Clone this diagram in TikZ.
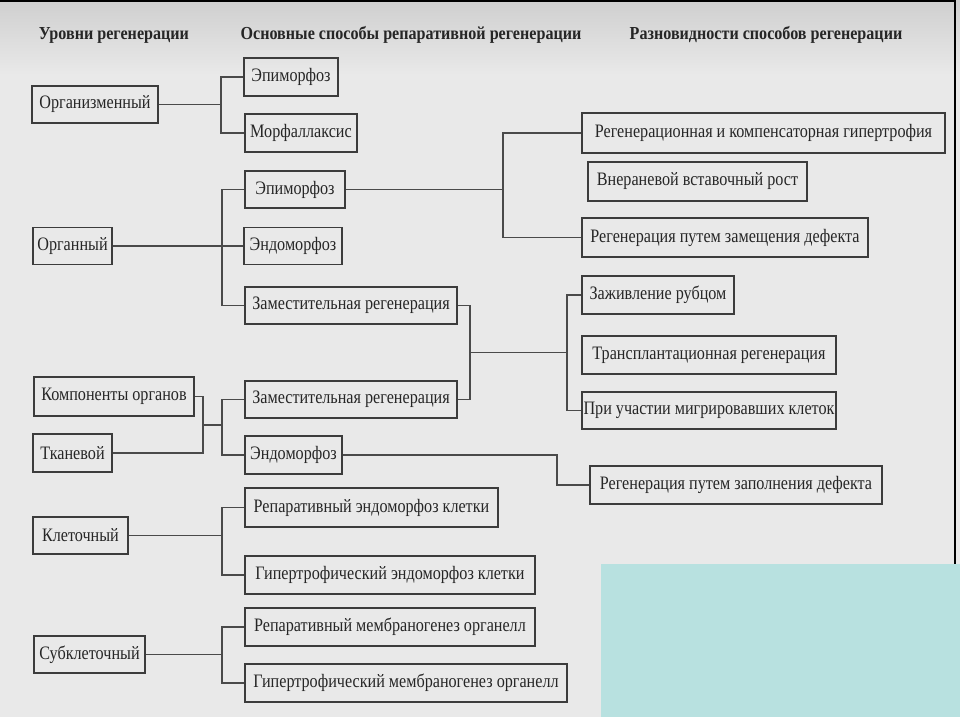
\documentclass[tikz,border=0pt]{standalone}
\usepackage{fontspec}
\setmainfont{Liberation Serif}[FakeStretch=0.85]
\newfontfamily\hdrfont{Liberation Serif}[FakeStretch=0.88]
\definecolor{bgc}{HTML}{E9E9E9}
\definecolor{topc}{HTML}{CFCFCF}
\definecolor{cyanc}{HTML}{B8E1E0}
\definecolor{boxc}{HTML}{3C3C3C}
\definecolor{linec}{HTML}{4A4A4A}
\definecolor{txtc}{HTML}{262626}
\begin{document}
\begin{tikzpicture}[x=1pt,y=-1pt,
  box/.style={draw=boxc, line width=1.6pt, inner sep=0pt, text=txtc,
    font=\fontsize{19}{22}\selectfont},
  hdr/.style={text=txtc, inner sep=0pt, font=\hdrfont\bfseries\fontsize{18.3}{21}\selectfont},
  ln/.style={draw=linec, line width=1.4pt}]
% background
\fill[bgc] (0,0) rectangle (960,717);
\shade[top color=topc, bottom color=bgc] (0,0) rectangle (960,75);
\useasboundingbox (0,0) rectangle (960,717);
\fill[cyanc] (601,564) rectangle (960,717);
\draw[black, line width=1.5pt] (0,1) -- (955,1) -- (955,564);

% headers
\node[hdr] (h1) at (114,35) {Уровни регенерации};
\node[hdr] (h2) at (411,35) {Основные способы репаративной регенерации};
\node[hdr] (h3) at (766,35) {Разновидности способов регенерации};

% level boxes
\node[box, minimum width=126pt, minimum height=37pt] (org)   at (95,104.5)  {Организменный};
\node[box, minimum width=79pt,  minimum height=37pt] (organ) at (72.5,246)  {Органный};
\node[box, minimum width=160pt, minimum height=39pt] (komp)  at (114,396.5) {Компоненты органов};
\node[box, minimum width=79pt,  minimum height=38pt] (tkan)  at (72.5,453)  {Тканевой};
\node[box, minimum width=95pt,  minimum height=37pt] (kl)    at (80.5,535.5){Клеточный};
\node[box, minimum width=111pt, minimum height=37pt] (subkl) at (89.5,654.5){Субклеточный};

% main ways
\node[box, minimum width=94pt,  minimum height=38pt] (epi1)  at (291,77)    {Эпиморфоз};
\node[box, minimum width=112pt, minimum height=38pt] (morf)  at (301,133)   {Морфаллаксис};
\node[box, minimum width=100pt, minimum height=37pt] (epi2)  at (295,189.5) {Эпиморфоз};
\node[box, minimum width=98pt,  minimum height=37pt] (endo1) at (293,246)   {Эндоморфоз};
\node[box, minimum width=212pt, minimum height=37pt] (zam1)  at (351,305.5) {Заместительная регенерация};
\node[box, minimum width=212pt, minimum height=37pt] (zam2)  at (351,399.5) {Заместительная регенерация};
\node[box, minimum width=97pt,  minimum height=38pt] (endo2) at (293.5,455) {Эндоморфоз};
\node[box, minimum width=253pt, minimum height=39pt] (repEnd) at (371.5,507.5) {Репаративный эндоморфоз клетки};
\node[box, minimum width=290pt, minimum height=38pt] (hypEnd) at (390,575)     {Гипертрофический эндоморфоз клетки};
\node[box, minimum width=290pt, minimum height=38pt] (repMem) at (390,627)     {Репаративный мембраногенез органелл};
\node[box, minimum width=322pt, minimum height=38pt] (hypMem) at (406,683)     {Гипертрофический мембраногенез органелл};

% varieties
\node[box, minimum width=363pt, minimum height=40pt] (regKomp) at (763.5,133) {Регенерационная и компенсаторная гипертрофия};
\node[box, minimum width=219pt, minimum height=39pt] (vnera)   at (697.5,181.5) {Внераневой вставочный рост};
\node[box, minimum width=286pt, minimum height=39pt] (regZam)  at (725,237.5) {Регенерация путем замещения дефекта};
\node[box, minimum width=152pt, minimum height=38pt] (zaz)     at (658,295)   {Заживление рубцом};
\node[box, minimum width=254pt, minimum height=38pt] (trans)   at (709,355)   {Трансплантационная регенерация};
\node[box, minimum width=254pt, minimum height=37pt] (pri)     at (709,410.5) {При участии мигрировавших клеток};
\node[box, minimum width=292pt, minimum height=38pt] (regZap)  at (736,485)   {Регенерация путем заполнения дефекта};

% junction columns
\coordinate (xa) at (221,0);
\coordinate (x3) at (503,0);
\coordinate (x4) at (470,0);
\coordinate (x5) at (567,0);
\coordinate (x6) at (203,0);
\coordinate (x7) at (222,0);
\coordinate (x8) at (557,0);
\coordinate (m4) at (470,352.5);
\coordinate (m6) at (203,425);

% connectors
\draw[ln] (org.east) -- (org.east -| xa);
\draw[ln] (epi1.west) -| (org.east -| xa) |- (morf.west);

\draw[ln] (organ.east) -- (endo1.west);
\draw[ln] (epi2.west) -| (organ.east -| x7) |- (zam1.west);

\draw[ln] (epi2.east) -- (epi2.east -| x3);
\draw[ln] (regKomp.west) -| (epi2.east -| x3) |- (regZam.west);

\draw[ln] (zam1.east) -| (zam2.east -| x4) -- (zam2.east);
\draw[ln] (m4) -- (m4 -| x5);
\draw[ln] (zaz.west) -| (m4 -| x5) |- (pri.west);

\draw[ln] (komp.east) -| (tkan.east -| x6) -- (tkan.east);
\draw[ln] (m6) -- (m6 -| x7);
\draw[ln] (zam2.west) -| (m6 -| x7) |- (endo2.west);

\draw[ln] (endo2.east) -| (regZap.west -| x8) -- (regZap.west);

\draw[ln] (kl.east) -- (kl.east -| x7);
\draw[ln] (repEnd.west) -| (kl.east -| x7) |- (hypEnd.west);

\draw[ln] (subkl.east) -- (subkl.east -| x7);
\draw[ln] (repMem.west) -| (subkl.east -| x7) |- (hypMem.west);
\end{tikzpicture}
\end{document}
